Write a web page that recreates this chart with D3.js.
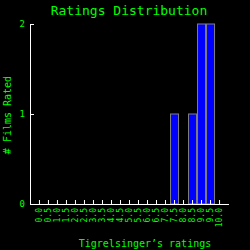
<!doctype html>
<html lang="en">
  <head>
    <meta charset="utf-8">
    <title>Ratings Distribution</title>
    <script src="https://d3js.org/d3.v7.min.js"></script>
    <style>
      body { margin: 0; background: #000; }
      text { font-family: "DejaVu Sans Mono", monospace; fill: #00ff00; }
    </style>
  </head>
  <body>
    <svg width="250" height="250"></svg>
    <script>
      var ratings = ['0.0','0.5','1.0','1.5','2.0','2.5','3.0','3.5','4.0','4.5','5.0',
                     '5.5','6.0','6.5','7.0','7.5','8.0','8.5','9.0','9.5','10.0'];
      var counts = [0,0,0,0,0,0,0,0,0,0,0,0,0,0,0,1,0,1,2,2,0];
      var yTicks = [0, 1, 2];

      var svg = d3.select('svg');
      svg.append('rect').attr('width', 250).attr('height', 250).attr('fill', '#000');

      var x = d3.scaleBand().domain(ratings).range([30, 229])
        .paddingInner(0).paddingOuter(0.55);
      var y = d3.scaleLinear().domain([0, 2]).range([204, 24]);

      // bars
      svg.selectAll('rect.bar')
        .data(ratings.map(function(r, i){ return {r: r, c: counts[i]}; }).filter(function(d){ return d.c > 0; }))
        .enter().append('rect')
          .attr('class', 'bar')
          .attr('x', function(d){ return x(d.r) + 0.5; })
          .attr('y', function(d){ return y(d.c); })
          .attr('width', x.bandwidth() - 1)
          .attr('height', function(d){ return y(0) - y(d.c); })
          .attr('fill', '#0000ff')
          .attr('stroke', '#808080')
          .attr('stroke-width', 1);

      // x axis
      var xAxis = svg.append('g').attr('transform', 'translate(0,204)')
        .call(d3.axisBottom(x).tickSize(-4).tickPadding(4));
      xAxis.select('.domain').attr('stroke', '#fff').attr('d', 'M30,0.5H229');
      xAxis.selectAll('.tick line').attr('stroke', '#fff');
      xAxis.selectAll('.tick text')
        .attr('font-size', 8)
        .attr('text-anchor', 'end')
        .attr('dy', '0.35em')
        .attr('transform', 'translate(0,4) rotate(-90)')
        .attr('x', 0).attr('y', 0);

      // y axis
      var yAxis = svg.append('g').attr('transform', 'translate(30,0)')
        .call(d3.axisLeft(y).tickValues(yTicks).tickFormat(d3.format('d')).tickSize(-4).tickPadding(5));
      yAxis.select('.domain').attr('stroke', '#fff').attr('d', 'M0.5,24V204');
      yAxis.selectAll('.tick line').attr('stroke', '#fff');
      yAxis.selectAll('.tick text').attr('font-size', 9);

      svg.selectAll('.tick text').style('fill', '#00ff00').attr('fill', '#00ff00')
        .style('font-family', '"DejaVu Sans Mono", monospace');

      // titles
      svg.append('text').attr('x', 129).attr('y', 15)
        .attr('text-anchor', 'middle').attr('font-size', 13)
        .text('Ratings Distribution');
      svg.append('text').attr('x', 145).attr('y', 247)
        .attr('text-anchor', 'middle').attr('font-size', 10)
        .text('Tigrelsinger’s ratings');
      svg.append('text')
        .attr('transform', 'translate(11,115) rotate(-90)')
        .attr('text-anchor', 'middle').attr('font-size', 10)
        .text('# Films Rated');
    </script>
  </body>
</html>
